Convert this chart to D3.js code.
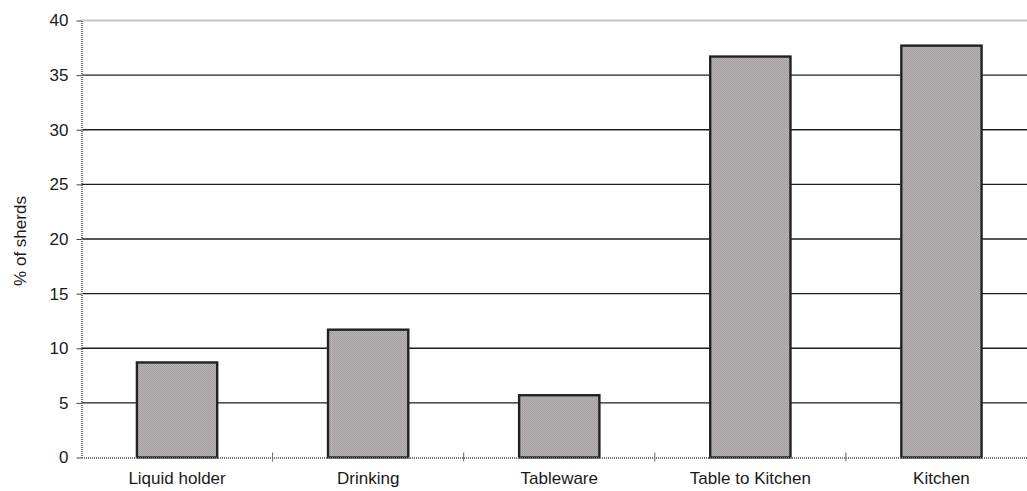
<!DOCTYPE html>
<html>
<head>
<meta charset="utf-8">
<script src="https://cdn.jsdelivr.net/npm/d3@7"></script>
<style>
  html, body { margin: 0; padding: 0; background: #fff; }
  svg { display: block; font-family: "Liberation Sans", Arial, sans-serif; }
</style>
</head>
<body>
<svg id="chart" width="1027" height="491"></svg>
<script>
// Pottery function categories and share of sherds (%)
const categories = ["Liquid holder", "Drinking", "Tableware", "Table to Kitchen", "Kitchen"];
const values = [8.7, 11.7, 5.7, 36.7, 37.7];
const yTicks = [0, 5, 10, 15, 20, 25, 30, 35, 40];

const svg = d3.select("#chart");
const plotLeft = 81.5, plotRight = 1037, plotTop = 20.5, plotBottom = 457.5;
const fontSize = 17;

const x = d3.scaleBand()
  .domain(categories)
  .range([plotLeft, plotRight])
  .paddingInner(0.58)
  .paddingOuter(0.29);

const y = d3.scaleLinear().domain([0, 40]).range([plotBottom, plotTop]);

// Stippled grey fill for the bars
const defs = svg.append("defs");
const pat = defs.append("pattern")
  .attr("id", "stipple")
  .attr("width", 2).attr("height", 2)
  .attr("patternUnits", "userSpaceOnUse");
pat.append("rect").attr("width", 2).attr("height", 2).attr("fill", "#b8b3b5");
pat.append("rect").attr("width", 1).attr("height", 1).attr("fill", "#a09c9e");
pat.append("rect").attr("x", 1).attr("y", 1).attr("width", 1).attr("height", 1).attr("fill", "#a6a2a4");

// Horizontal gridlines
svg.append("g")
  .selectAll("line")
  .data(yTicks.filter(d => d > 0 && d < 40))
  .join("line")
  .attr("x1", plotLeft).attr("x2", plotRight)
  .attr("y1", d => y(d)).attr("y2", d => y(d))
  .attr("stroke", "#1e1e1e").attr("stroke-width", 1.3);

// Top frame line
svg.append("line")
  .attr("x1", plotLeft).attr("x2", plotRight)
  .attr("y1", y(40)).attr("y2", y(40))
  .attr("stroke", "#888").attr("stroke-width", 2)
  .attr("stroke-dasharray", "1,1");

// Bars
svg.append("g")
  .selectAll("rect")
  .data(categories.map((c, i) => ({ c, v: values[i] })))
  .join("rect")
  .attr("x", d => x(d.c))
  .attr("width", x.bandwidth())
  .attr("y", d => y(d.v))
  .attr("height", d => y(0) - y(d.v))
  .attr("fill", "url(#stipple)")
  .attr("stroke", "#222")
  .attr("stroke-width", 2.4);

// Y axis
const yAxis = d3.axisLeft(y).tickValues(yTicks).tickSize(5).tickSizeOuter(0).tickPadding(8);
const gy = svg.append("g").attr("transform", `translate(${plotLeft},0)`).call(yAxis);
gy.select(".domain")
  .attr("stroke", "#777").attr("stroke-width", 2.2).attr("stroke-dasharray", "1,1");
gy.selectAll(".tick line").attr("stroke", "#444");
gy.selectAll(".tick text")
  .attr("font-size", fontSize).attr("fill", "#1a1a1a")
  .attr("font-family", "Liberation Sans, Arial, sans-serif");

// X axis
const xAxis = d3.axisBottom(x).tickSize(0).tickSizeOuter(0).tickPadding(14);
const gx = svg.append("g").attr("transform", `translate(0,${plotBottom})`).call(xAxis);
gx.select(".domain")
  .attr("stroke", "#777").attr("stroke-width", 2.2).attr("stroke-dasharray", "1,1");
gx.selectAll(".tick text")
  .attr("font-size", fontSize).attr("fill", "#1a1a1a")
  .attr("font-family", "Liberation Sans, Arial, sans-serif");

// Category separators on the x axis
const step = x.step();
svg.append("g")
  .selectAll("line")
  .data(categories.slice(1))
  .join("line")
  .attr("x1", d => x(d) - (step - x.bandwidth()) / 2)
  .attr("x2", d => x(d) - (step - x.bandwidth()) / 2)
  .attr("y1", plotBottom - 5).attr("y2", plotBottom + 4)
  .attr("stroke", "#666").attr("stroke-width", 1);

// Y axis title
svg.append("text")
  .attr("transform", `translate(26,${(plotTop + plotBottom) / 2 + 2}) rotate(-90)`)
  .attr("text-anchor", "middle")
  .attr("font-size", fontSize)
  .attr("fill", "#1a1a1a")
  .text("% of sherds");
</script>
</body>
</html>
